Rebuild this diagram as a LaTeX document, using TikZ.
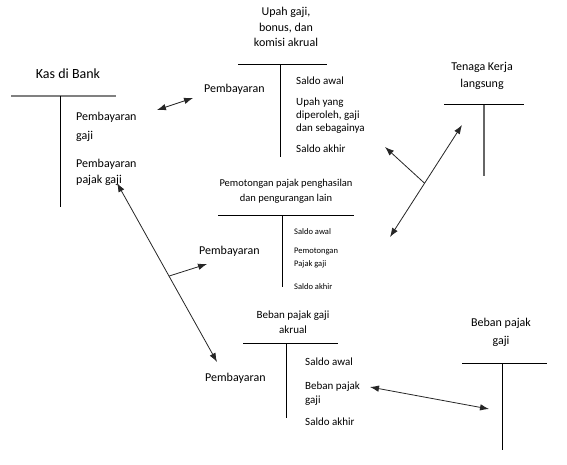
\documentclass[tikz,border=0pt]{standalone}
\usepackage{fontspec}
\setmainfont{Carlito}
\usetikzlibrary{arrows.meta}
\newcommand{\pxfont}[2]{\fontsize{#1}{#2}\selectfont}
\tikzset{
  ttl/.style={align=center, inner sep=0pt, anchor=north},
  entry/.style={align=left, inner sep=0pt, anchor=north west},
  one/.style={inner sep=0pt, anchor=base west},
  tline/.style={line width=1pt},
  link/.style={{Latex[length=9pt,width=6.5pt]}-{Latex[length=9pt,width=6.5pt]}, line width=0.8pt, black!85},
  branch/.style={-{Latex[length=9pt,width=6.5pt]}, line width=0.8pt, black!85},
}
\begin{document}
\begin{tikzpicture}[x=1pt, y=-1pt]
    \useasboundingbox (0,0) rectangle (567,465);

    % Kas di Bank
    \node[inner sep=0pt, anchor=base, font=\pxfont{14}{16}] (kas) at (68,78.5) {Kas di Bank};
    \draw[line width=2pt, black!50] (11,96) -- (116,96);
    \draw[tline] (60,96) -- (60,207);
    \node[entry, font=\pxfont{12}{18.5}] (kasGaji) at (76,112.4) {Pembayaran\\gaji};
    \node[entry, font=\pxfont{12}{16}] (kasPajak) at (76,159.4) {Pembayaran\\pajak gaji};

    % Upah gaji, bonus, dan komisi akrual
    \node[ttl, font=\pxfont{12}{15.5}] (upah) at (286,7.4) {Upah gaji,\\bonus, dan\\komisi akrual};
    \draw[tline] (238,65) -- (327,65);
    \draw[tline] (280,65) -- (280,157);
    \node[one, font=\pxfont{12}{14}] (upahPay) at (204,93) {Pembayaran};
    \node[one, font=\pxfont{11}{13}] (upahAwal) at (296,84.5) {Saldo awal};
    \node[entry, font=\pxfont{11}{12.8}] (upahEarn) at (296,97.8) {Upah yang\\diperoleh, gaji\\dan sebagainya};
    \node[one, font=\pxfont{11}{13}] (upahAkhir) at (296,152.5) {Saldo akhir};

    % Tenaga Kerja langsung
    \node[ttl, font=\pxfont{12}{17}] (tkl) at (482,62.4) {Tenaga Kerja\\langsung};
    \draw[tline] (444,105) -- (524,105);
    \draw[line width=1.5pt, black!60] (484,105) -- (484,176);

    % Pemotongan pajak penghasilan
    \node[ttl, font=\pxfont{10.5}{15}] (pot) at (286,179) {Pemotongan pajak penghasilan\\dan pengurangan lain};
    \draw[tline] (218,215) -- (354,215);
    \draw[tline] (282,215) -- (282,287);
    \node[one, font=\pxfont{12}{14}] (potPay) at (199,254) {Pembayaran};
    \node[one, font=\pxfont{8.5}{10}] (potAwal) at (294,234.5) {Saldo awal};
    \node[entry, font=\pxfont{8.5}{13}] (potGaji) at (294,248) {Pemotongan\\Pajak gaji};
    \node[one, font=\pxfont{8.5}{10}] (potAkhir) at (294,289.5) {Saldo akhir};

    % Beban pajak gaji akrual
    \node[ttl, font=\pxfont{11}{15}] (akr) at (293,311) {Beban pajak gaji\\akrual};
    \draw[tline] (243,343) -- (338,343);
    \draw[tline] (286,343) -- (286,418);
    \node[one, font=\pxfont{12}{14}] (akrPay) at (205,381) {Pembayaran};
    \node[one, font=\pxfont{11}{13}] (akrAwal) at (305,365.5) {Saldo awal};
    \node[entry, font=\pxfont{11}{14}] (akrBeban) at (305,381.8) {Beban pajak\\gaji};
    \node[one, font=\pxfont{11}{13}] (akrAkhir) at (305,425.5) {Saldo akhir};

    % Beban pajak gaji
    \node[ttl, font=\pxfont{12}{18}] (beban) at (501,318.4) {Beban pajak\\gaji};
    \draw[tline] (462,363) -- (547,363);
    \draw[tline] (502,363) -- (502,450);

    % arrow ends
    \coordinate (a1) at (157,110);
    \coordinate (b1) at (193,98);
    \coordinate (a2) at (117,183);
    \coordinate (b2) at (217,362);
    \coordinate (c2) at (207,264);
    \coordinate (a3) at (462,125);
    \coordinate (b3) at (390,237);
    \coordinate (c3) at (385,147);
    \coordinate (a4) at (370,387);
    \coordinate (b4) at (489,409);

    \draw[link] (a1) -- (b1);
    \draw[link] (a2) -- coordinate[pos=0.52] (j2) (b2);
    \draw[branch] (j2) -- (c2);
    \draw[link] (a3) -- coordinate[pos=0.52] (j3) (b3);
    \draw[branch] (j3) -- (c3);
    \draw[link] (a4) -- (b4);
\end{tikzpicture}
\end{document}
